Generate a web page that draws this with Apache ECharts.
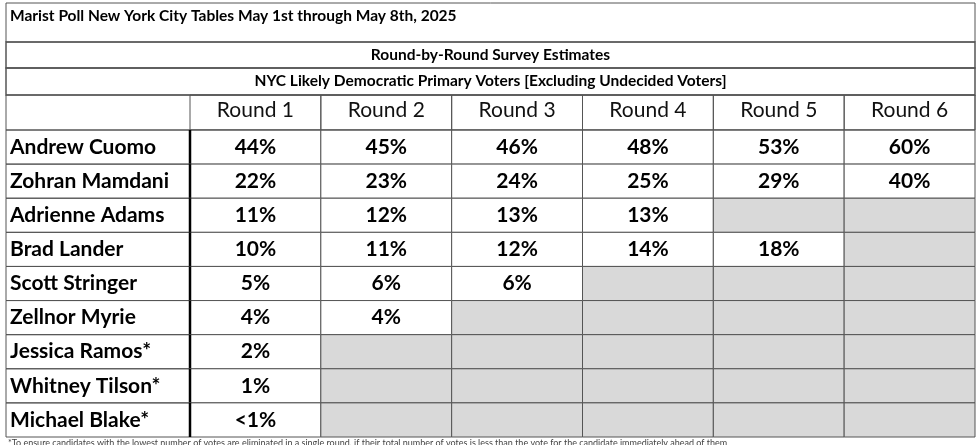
<!DOCTYPE html>
<html><head><meta charset="utf-8">
<script src="https://cdn.jsdelivr.net/npm/echarts@6/dist/echarts.min.js"></script>
<style>html,body{margin:0;background:#fff}#c{width:980px;height:445px}</style>
</head><body><div id="c"></div>
<script>
// 表格数据：候选人、轮次、各轮得票
const candidates = ['Andrew Cuomo', 'Zohran Mamdani', 'Adrienne Adams', 'Brad Lander', 'Scott Stringer',
  'Zellnor Myrie', 'Jessica Ramos*', 'Whitney Tilson*', 'Michael Blake*']
const rounds = ['Round 1', 'Round 2', 'Round 3', 'Round 4', 'Round 5', 'Round 6']
const round1 = ['44%', '22%', '11%', '10%', '5%', '4%', '2%', '1%', '<1%']
const round2 = ['45%', '23%', '12%', '11%', '6%', '4%', null, null, null]
const round3 = ['46%', '24%', '13%', '12%', '6%', null, null, null, null]
const round4 = ['48%', '25%', '13%', '14%', null, null, null, null, null]
const round5 = ['53%', '29%', null, '18%', null, null, null, null, null]
const round6 = ['60%', '40%', null, null, null, null, null, null, null]
const title = 'Marist Poll New York City Tables May 1st through May 8th, 2025'
const subtitle1 = 'Round-by-Round Survey Estimates'
const subtitle2 = 'NYC Likely Democratic Primary Voters [Excluding Undecided Voters]'
const footnote = '*To ensure candidates with the lowest number of votes are eliminated in a single round, if their total number of votes is less than the vote for the candidate immediately ahead of them'

const cols = [round1, round2, round3, round4, round5, round6]
const data = []
cols.forEach((c, ci) => c.forEach((v, ri) => data.push([ci, ri, v])))

const FONT = 'Lato, "Open Sans", sans-serif'
const L = 6, R = 975, NAMEW = 184, HEADH = 35

const chart = echarts.init(document.getElementById('c'))
chart.setOption({
  animation: false,
  grid: { left: L + NAMEW, right: 980 - R, top: 130, bottom: 8 },
  xAxis: {
    type: 'category', data: rounds, position: 'top',
    axisLine: { show: false }, axisTick: { show: false }, splitLine: { show: false },
    axisLabel: { color: '#111', fontFamily: FONT, fontSize: 21, margin: 9 }
  },
  yAxis: {
    type: 'category', data: candidates, inverse: true,
    axisLine: { show: false }, axisTick: { show: false },
    axisLabel: {
      color: '#000', fontFamily: FONT, fontSize: 21, fontWeight: 'bold', align: 'left',
      margin: NAMEW - 4
    }
  },
  series: [{
    type: 'custom',
    data: data,
    renderItem(params, api) {
      const p = api.coord([api.value(0), api.value(1)])
      const s = api.size([1, 1])
      const v = data[params.dataIndex][2]
      const x = p[0] - s[0] / 2, y = p[1] - s[1] / 2
      const children = [{
        type: 'rect', shape: { x, y, width: s[0], height: s[1] },
        style: { fill: v == null ? '#d9d9d9' : '#fff', stroke: '#555', lineWidth: 1 }
      }]
      if (v != null) children.push({
        type: 'text', style: { text: v, x: p[0], y: p[1], align: 'center', verticalAlign: 'middle',
          font: 'bold 21px ' + FONT, fill: '#000' }
      })
      // 表头单元格边框
      if (api.value(1) === 0) {
        children.push({ type: 'rect', shape: { x, y: y - HEADH, width: s[0], height: HEADH },
          style: { fill: 'none', stroke: '#555', lineWidth: 1 } })
      }
      if (api.value(0) === 0) {
        children.unshift({ type: 'rect', shape: { x: L, y, width: x - L, height: s[1] },
          style: { fill: 'none', stroke: '#555', lineWidth: 1 } })
        children.push({ type: 'line', shape: { x1: x, y1: y, x2: x, y2: y + s[1] },
          style: { stroke: '#000', lineWidth: 2.5 } })
      }
      return { type: 'group', children }
    },
    z: 1
  }],
  graphic: [
    { type: 'rect', shape: { x: L, y: 3, width: R - L, height: 39 }, style: { fill: 'none', stroke: '#555', lineWidth: 1 } },
    { type: 'rect', shape: { x: L, y: 42, width: R - L, height: 26 }, style: { fill: 'none', stroke: '#555', lineWidth: 1.5 } },
    { type: 'rect', shape: { x: L, y: 68, width: R - L, height: 27 }, style: { fill: 'none', stroke: '#555', lineWidth: 1.5 } },
    { type: 'rect', shape: { x: L, y: 95, width: R - L, height: 35 }, style: { fill: 'none', stroke: '#555', lineWidth: 1 } },
    { type: 'text', x: 10, y: 8, style: { text: title, font: 'bold 15.5px ' + FONT, fill: '#000' } },
    { type: 'text', x: (L + R) / 2, y: 55, style: { text: subtitle1, font: 'bold 15.5px ' + FONT, fill: '#000', align: 'center', verticalAlign: 'middle' } },
    { type: 'text', x: (L + R) / 2, y: 81, style: { text: subtitle2, font: 'bold 15.5px ' + FONT, fill: '#000', align: 'center', verticalAlign: 'middle' } },
    { type: 'text', x: 8, y: 439, style: { text: footnote, font: '9px ' + FONT, fill: '#444' } }
  ]
})
</script></body></html>
